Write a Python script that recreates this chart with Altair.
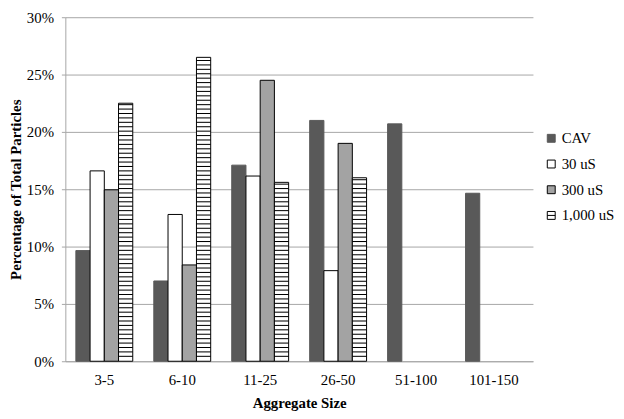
import altair as alt
import pandas as pd
import numpy as np

categories = ["3-5", "6-10", "11-25", "26-50", "51-100", "101-150"]
series = ["CAV", "30 uS", "300 uS", "1,000 uS"]
cav = [9.65, 7.0, 17.1, 21.0, 20.7, 14.65]
us30 = [16.6, 12.8, 16.15, 7.9, None, None]
us300 = [14.95, 8.4, 24.5, 19.0, None, None]
us1000 = [22.5, 26.5, 15.6, 16.0, None, None]

rows = []
for name, vals in zip(series, [cav, us30, us300, us1000]):
    for c, v in zip(categories, vals):
        if v is not None:
            rows.append({"size": c, "series": name, "pct": v})
df = pd.DataFrame(rows)

# horizontal hatch lines for the 1,000 uS bars (decoration derived from bar heights)
stripe_step = 0.385
srows = []
for c, v in zip(categories, us1000):
    if v is None:
        continue
    for s in np.arange(stripe_step, v - 0.1, stripe_step):
        srows.append({"size": c, "series": "1,000 uS", "s": float(s), "s2": float(s) + 0.09})
sdf = pd.DataFrame(srows)

FONT = "Liberation Serif"
fills = ["#595959", "#ffffff", "#a3a3a3", "#ffffff"]
strokes = ["#595959", "#000000", "#000000", "#000000"]
shapes = ["square", "square", "square", "M-1,-1H1V1H-1ZM-1,0H1"]

axis_font = dict(labelFont=FONT, labelFontSize=15, labelColor="#000000",
                 titleFont=FONT, titleFontSize=15, titleFontWeight="bold", titleColor="#000000")

xenc = alt.X("size:N", sort=categories, scale=alt.Scale(paddingInner=0.27, paddingOuter=0.135),
             axis=alt.Axis(title="Aggregate Size", labelAngle=0, ticks=False, labelPadding=12,
                           titlePadding=8, domainColor="#a6a6a6", **axis_font))
xoff = alt.XOffset("series:N", sort=series, scale=alt.Scale(domain=series, paddingInner=0, paddingOuter=0))
yenc = alt.Y("pct:Q", scale=alt.Scale(domain=[0, 30], nice=False),
             axis=alt.Axis(title="Percentage of Total Particles", values=[0, 5, 10, 15, 20, 25, 30],
                           labelExpr="datum.value + '%'", tickSize=4, labelPadding=8,
                           titleX=-50, titleBaseline="middle",
                           grid=True, gridColor="#a6a6a6", domainColor="#a6a6a6",
                           tickColor="#a6a6a6", **axis_font))
legend = alt.Legend(title=None, orient="none", legendX=484, legendY=115,
                    symbolSize=64, rowPadding=10, labelOffset=3, symbolStrokeWidth=1,
                    labelFont=FONT, labelFontSize=15, labelColor="#000000", padding=0)
cenc = alt.Color("series:N", sort=series, scale=alt.Scale(domain=series, range=fills), legend=legend)
senc = alt.Stroke("series:N", sort=series, scale=alt.Scale(domain=series, range=strokes), legend=legend)

bars = alt.Chart(df).mark_bar(strokeWidth=1).encode(
    x=xenc, xOffset=xoff, y=yenc, color=cenc, stroke=senc,
)

stripes = alt.Chart(sdf).mark_bar(color="black", strokeWidth=0).encode(
    x=alt.X("size:N", sort=categories),
    xOffset=alt.XOffset("series:N", sort=series),
    y="s:Q",
    y2="s2:Q",
)

legend_pts = alt.Chart(df).mark_point(filled=True, size=64, strokeWidth=1, opacity=1).encode(
    x=alt.X("size:N", sort=categories),
    y="pct:Q",
    color=cenc, stroke=senc,
    shape=alt.Shape("series:N", sort=series, scale=alt.Scale(domain=series, range=shapes), legend=legend),
).transform_filter("false")

chart = alt.layer(bars, stripes, legend_pts).properties(
    width=473, height=348,
    autosize=alt.AutoSizeParams(type="none"),
    padding={"left": 58, "top": 7, "right": 84, "bottom": 48},
).configure(
    font=FONT,
    style={"guide-label": {"font": FONT}, "guide-title": {"font": FONT}},
).configure_view(stroke=None).configure_axis(
    labelFont=FONT, titleFont=FONT
).configure_legend(labelFont=FONT)

chart.save("out.html", embed_options={"renderer": "svg", "actions": False})
